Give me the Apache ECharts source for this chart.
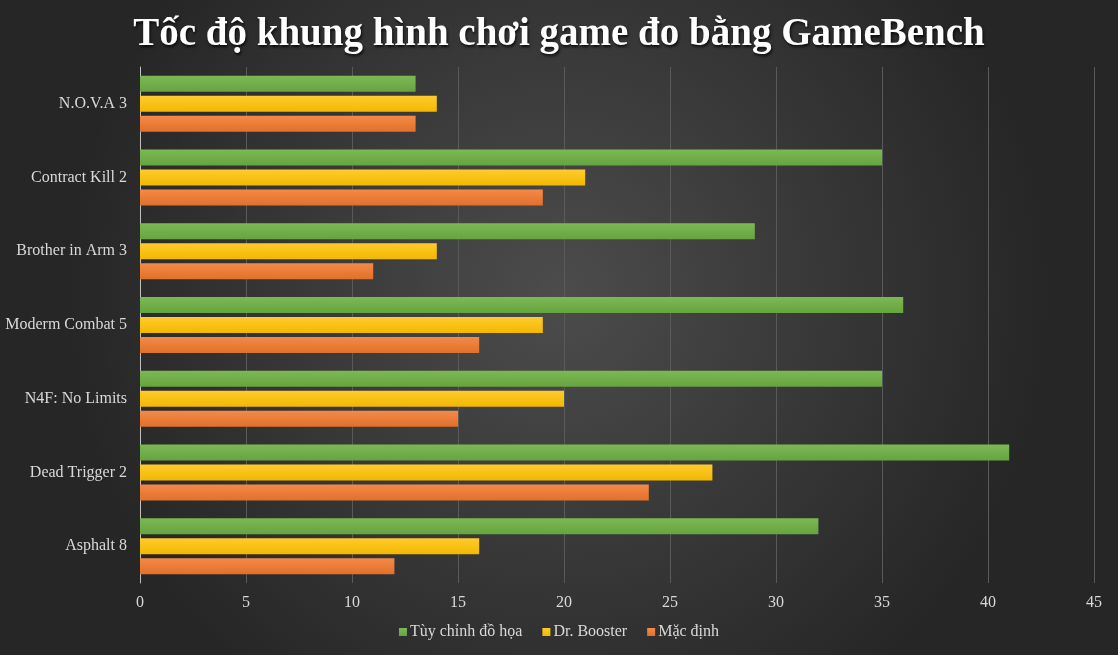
<!DOCTYPE html>
<html><head><meta charset="utf-8">
<script src="https://cdn.jsdelivr.net/npm/echarts@6/dist/echarts.min.js"></script>
<style>html,body{margin:0;padding:0;background:#333;}#c{width:1118px;height:655px;}</style>
</head><body><div id="c"></div>
<script>
const categories = ['Asphalt 8','Dead Trigger 2','N4F: No Limits','Moderm Combat 5','Brother in Arm 3','Contract Kill 2','N.O.V.A 3'];
const tuyChinh = [32,41,35,36,29,35,13];
const drBooster = [16,27,20,19,14,21,14];
const macDinh = [12,24,15,16,11,19,13];
const seriesNames = ['Tùy chỉnh đồ họa','Dr. Booster','Mặc định'];
const title = 'Tốc độ khung hình chơi game đo bằng GameBench';

function grad(top, bottom){
  return new echarts.graphic.LinearGradient(0,0,0,1,[{offset:0,color:top},{offset:1,color:bottom}]);
}
const serif = '"Liberation Serif","Times New Roman",serif';
const fills = [grad('#7cb954','#66a43f'), grad('#ffcb2e','#f2b800'), grad('#f38a48','#e2702a')];
const values = [tuyChinh, drBooster, macDinh];
const legendColors = ['#70ad47','#ffc000','#ed7d31'];

const chart = echarts.init(document.getElementById('c'));
chart.setOption({
  backgroundColor: new echarts.graphic.RadialGradient(0.5,0.45,0.75,[{offset:0,color:'#4c4c4c'},{offset:1,color:'#262626'}]),
  title: {text: title, left:'center', top:10,
    textStyle:{fontFamily:serif, fontWeight:'bold', fontSize:39, color:'#ffffff',
      textShadowColor:'rgba(0,0,0,0.8)', textShadowBlur:3, textShadowOffsetX:1, textShadowOffsetY:2}},
  legend: {data: seriesNames, bottom: 10, left:'center', itemWidth:8, itemHeight:8, itemGap:20,
    icon:'rect', textStyle:{fontFamily:serif, fontSize:16, color:'#d9d9d9', padding:[0,0,0,-2]}},
  grid: {left:140, right:24, top:67, bottom:72},
  xAxis: {type:'value', min:0, max:45, interval:5,
    axisLine:{show:false}, axisTick:{show:false},
    axisLabel:{fontFamily:serif, fontSize:16, color:'#d9d9d9', margin:12},
    splitLine:{lineStyle:{color:'#5a5a5a', width:1}}},
  yAxis: {type:'category', data: categories,
    axisLine:{show:true, lineStyle:{color:'#bfbfbf', width:1}}, axisTick:{show:false},
    axisLabel:{fontFamily:serif, fontSize:16, color:'#d9d9d9', margin:13}},
  series: seriesNames.map((n,i)=>({
    name:n, type:'bar', data: values[i], barWidth:16, barGap:'25%', barCategoryGap:'24%',
    color: legendColors[i],
    itemStyle:{color: fills[i], shadowColor:'rgba(0,0,0,0.7)', shadowBlur:3, shadowOffsetX:2, shadowOffsetY:2},
    emphasis:{disabled:true}
  }))
});
</script></body></html>
